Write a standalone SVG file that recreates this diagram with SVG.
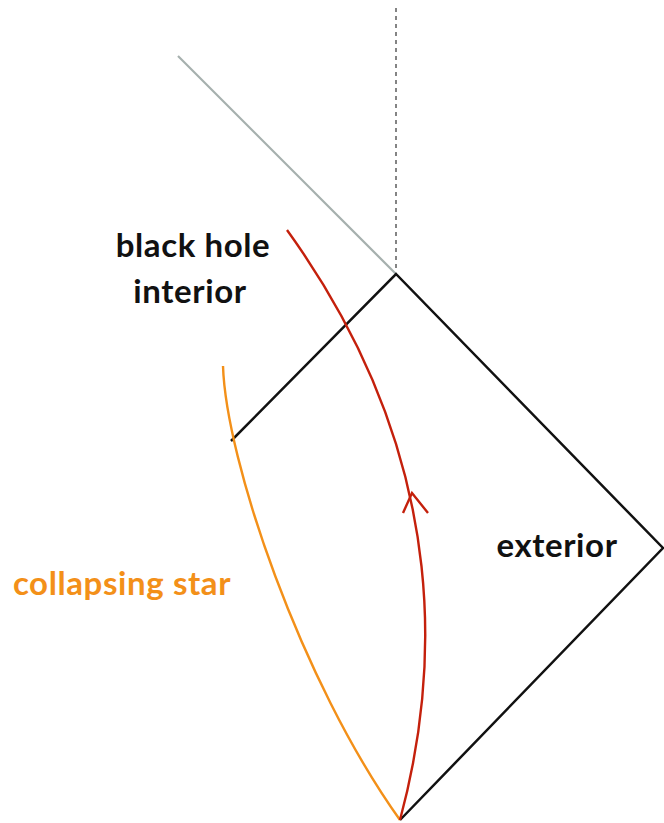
<svg xmlns="http://www.w3.org/2000/svg" width="664" height="823" viewBox="0 0 664 823">
<style>
.lbl{font-family:Lato,"Open Sans","Liberation Sans",sans-serif;font-weight:bold;font-size:33px;letter-spacing:0.6px;fill:#111}
.orange{fill:#f39019}
.edge{fill:none;stroke:#111;stroke-width:2.5}
</style>
<rect width="664" height="823" fill="#fff"/>
<g id="connectors">
<line x1="396" y1="8" x2="396" y2="272" stroke="#666" stroke-width="1.6" stroke-dasharray="4,4"/>
<line x1="178" y1="56" x2="396" y2="274" stroke="#a6b0ae" stroke-width="2.2"/>
<polyline class="edge" points="231,441 396,274 663,548 400,820"/>
<path d="M223,366 C226,460 300,680 400,820" fill="none" stroke="#f39019" stroke-width="2.4"/>
<path d="M400,820 C435,690 460,470 287,230" fill="none" stroke="#c4200c" stroke-width="2.4"/>
<path d="M403,513 L412,493 L428,513" fill="none" stroke="#c4200c" stroke-width="2.4"/>
</g>
<g id="label-interior">
<text class="lbl" x="193" y="257" text-anchor="middle">black hole</text>
<text class="lbl" x="190" y="303" text-anchor="middle">interior</text>
</g>
<g id="label-exterior">
<text class="lbl" x="557" y="557" text-anchor="middle">exterior</text>
</g>
<g id="label-star">
<text class="lbl orange" x="122" y="595" text-anchor="middle">collapsing star</text>
</g>
</svg>
